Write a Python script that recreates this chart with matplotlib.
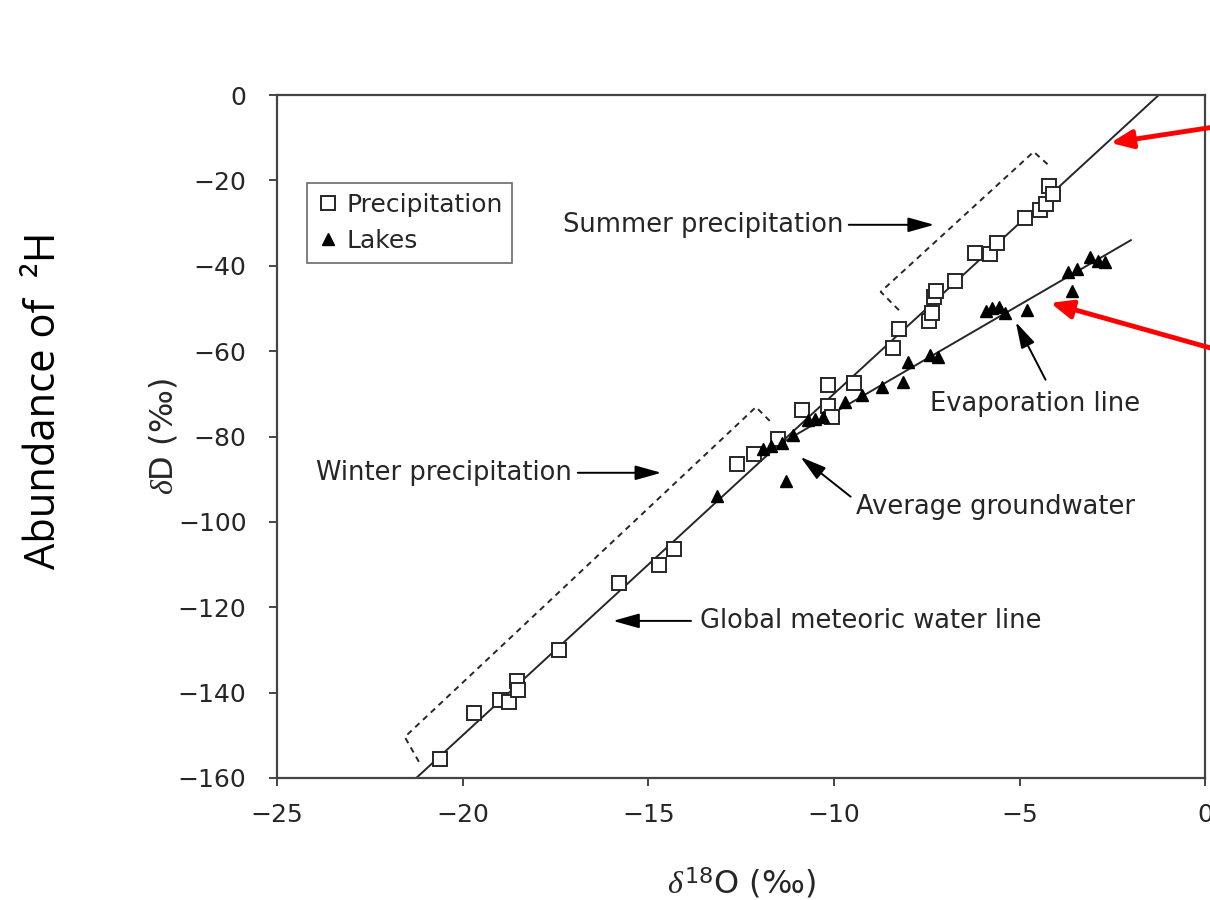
import matplotlib
matplotlib.use("Agg")
import matplotlib.pyplot as plt

plt.rcParams["font.family"] = ["DejaVu Sans"]
plt.rcParams["mathtext.fontset"] = "custom"
plt.rcParams["mathtext.rm"] = "DejaVu Sans"
plt.rcParams["mathtext.it"] = "Liberation Serif:italic"

# precipitation samples (open squares)
precip_x = [-20.6, -19.7, -19.0, -18.75, -18.55, -18.5, -17.4, -15.8, -14.7, -14.3,
            -12.6, -12.15, -11.5, -10.85, -10.15, -10.15, -10.05, -9.45, -8.4, -8.25,
            -7.45, -7.35, -7.3, -7.25, -6.75, -6.2, -5.8, -5.6, -4.85, -4.45,
            -4.3, -4.2, -4.1]
precip_y = [-155.5, -144.8, -141.7, -142.2, -137.3, -139.3, -130.0, -114.3, -110.2, -106.3,
            -86.5, -84.0, -80.5, -73.8, -68.0, -72.8, -75.5, -67.4, -59.2, -54.8,
            -53.0, -51.0, -47.3, -45.8, -43.5, -37.0, -37.2, -34.6, -28.7, -27.0,
            -25.5, -21.2, -23.2]

# lake samples (filled triangles)
lakes_x = [-13.15, -11.3, -11.9, -11.7, -11.4, -11.1, -10.7, -10.5, -10.3, -9.7,
           -9.25, -8.7, -8.15, -8.0, -7.4, -7.2, -5.9, -5.75, -5.55, -5.4,
           -4.8, -3.6, -3.7, -3.45, -3.1, -2.9, -2.7]
lakes_y = [-94.0, -90.5, -83.0, -82.3, -81.5, -79.6, -76.2, -76.0, -75.5, -72.0,
           -70.3, -68.3, -67.3, -62.5, -61.0, -61.4, -50.6, -50.0, -49.6, -51.0,
           -50.3, -46.0, -41.5, -40.7, -38.0, -38.8, -39.0]

# global meteoric water line and evaporation line end points
gmwl_x = [-21.25, -1.25]
gmwl_y = [-160, 0]
evap_x = [-11.5, -2.0]
evap_y = [-82, -34]

# dashed brackets around the seasonal groups
summer_x = [-8.25, -8.74, -4.62, -4.22]
summer_y = [-50.4, -46.1, -13.3, -16.4]
winter_x = [-21.18, -21.56, -12.1, -11.7]
winter_y = [-156.2, -150.4, -73.1, -76.6]

ink = "#262626"

fig = plt.figure(figsize=(12.1, 9), dpi=100)
ax = fig.add_axes([0.229, 0.1356, 0.767, 0.7588])

ax.plot(gmwl_x, gmwl_y, color=ink, lw=1.4, zorder=2)
ax.plot(evap_x, evap_y, color=ink, lw=1.4, zorder=2)
ax.plot(summer_x, summer_y, color=ink, lw=1.4, ls=(0, (3, 2.5)))
ax.plot(winter_x, winter_y, color=ink, lw=1.4, ls=(0, (3, 2.5)))

ax.plot(precip_x, precip_y, "s", ms=10, mfc="white", mec=ink, mew=1.4,
        ls="none", label="Precipitation", zorder=3)
ax.plot(lakes_x, lakes_y, "^", ms=8, mfc="black", mec="black",
        ls="none", label="Lakes", zorder=4)

ax.set_xlim(-25, 0)
ax.set_ylim(-160, 0)
ax.set_xticks([-25, -20, -15, -10, -5, 0])
ax.set_yticks(range(-160, 1, 20))
ax.tick_params(direction="out", length=6, width=1.2, colors=ink, labelsize=18)
ax.tick_params(axis="x", pad=12)
ax.tick_params(axis="y", pad=16)
for s in ax.spines.values():
    s.set_color("#444444")
    s.set_linewidth(1.6)

ax.set_xlabel(r"$\delta^{18}$O (‰)", fontsize=23, color=ink, labelpad=28)
ax.set_ylabel(r"$\delta$D (‰)", fontsize=23, color=ink, labelpad=-1)

leg = ax.legend(loc="upper left", bbox_to_anchor=(0.032, 0.871), borderaxespad=0,
                fontsize=18, frameon=True, fancybox=False, handletextpad=0.3,
                handlelength=0.9, labelspacing=0.5, borderpad=0.38)
leg.get_frame().set_edgecolor("#444444")
leg.get_frame().set_linewidth(1.2)
for t in leg.get_texts():
    t.set_color(ink)

arrow = dict(arrowstyle="-|>,head_length=1.6,head_width=0.45", color="black",
             lw=1.4, shrinkA=0, shrinkB=0)
fs = 18.5
ax.annotate("", xy=(-7.3, -30.4), xytext=(-9.6, -30.4), arrowprops=arrow)
ax.text(-9.75, -30.4, "Summer precipitation", ha="right", va="center",
        fontsize=fs, color=ink)
ax.annotate("", xy=(-14.65, -88.5), xytext=(-16.9, -88.5), arrowprops=arrow)
ax.text(-17.05, -88.5, "Winter precipitation", ha="right", va="center",
        fontsize=fs, color=ink)
ax.annotate("", xy=(-10.9, -84.8), xytext=(-9.55, -94.1), arrowprops=arrow)
ax.text(-9.4, -96.5, "Average groundwater", ha="left", va="center",
        fontsize=fs, color=ink)
ax.annotate("", xy=(-5.1, -53.2), xytext=(-4.3, -66.7), arrowprops=arrow)
ax.text(-7.4, -72.4, "Evaporation line", ha="left", va="center",
        fontsize=fs, color=ink)
ax.annotate("", xy=(-15.95, -123.2), xytext=(-13.85, -123.2), arrowprops=arrow)
ax.text(-13.6, -123.2, "Global meteoric water line", ha="left", va="center",
        fontsize=fs, color=ink)

# red pointers coming from the right edge
red = dict(arrowstyle="-|>,head_length=1.3,head_width=0.55", color="#ff0000",
           lw=3.5, shrinkA=0, shrinkB=0)
ax.annotate("", xy=(-2.55, -11.2), xycoords="data",
            xytext=(1.004, 0.859), textcoords="figure fraction",
            arrowprops=red, annotation_clip=False)
ax.annotate("", xy=(-4.17, -48.7), xycoords="data",
            xytext=(1.004, 0.612), textcoords="figure fraction",
            arrowprops=red, annotation_clip=False)

fig.text(0.036, 0.555, "Abundance of  ²H", rotation=90, ha="center",
         va="center", fontsize=30, color="black",
         family=["Open Sans", "DejaVu Sans"])

fig.savefig("out.png", dpi=100)
plt.close(fig)
